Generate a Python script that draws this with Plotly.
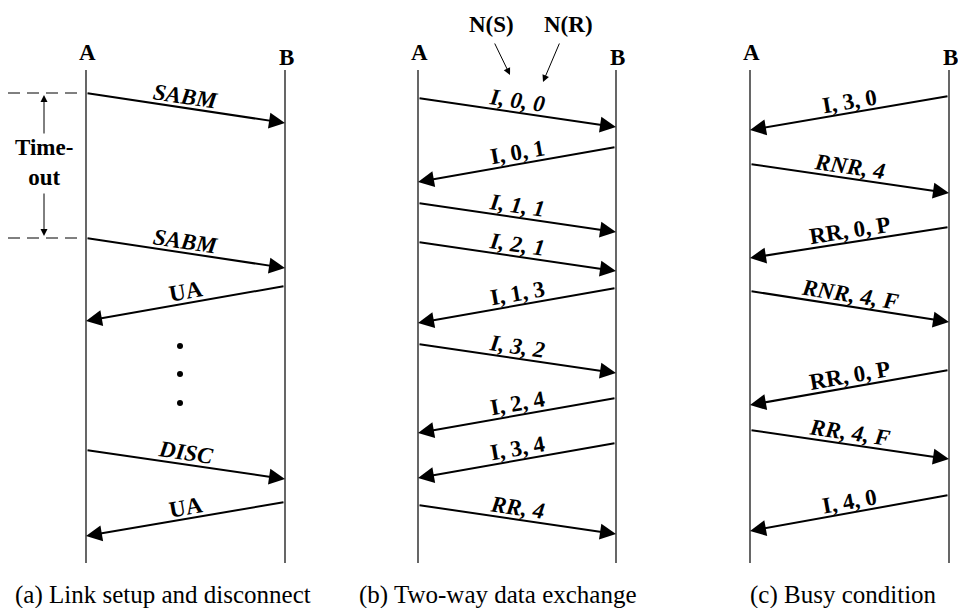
import math
import plotly.graph_objects as go

# ---------------- data (time of send / receive) ----------------
a_msgs = ["SABM", "SABM", "UA", "DISC", "UA"]
a_from = ["A", "A", "B", "A", "B"]
a_send = [93, 238, 286, 450, 502]
a_recv = [123, 268, 321, 479, 536]

b_msgs = ["I, 0, 0", "I, 0, 1", "I, 1, 1", "I, 2, 1", "I, 1, 3", "I, 3, 2", "I, 2, 4", "I, 3, 4", "RR, 4"]
b_from = ["A", "B", "A", "A", "B", "A", "B", "B", "A"]
b_send = [98, 147, 203, 242, 288, 344, 398, 443, 505]
b_recv = [127, 182, 232, 271, 323, 373, 433, 478, 534]

c_msgs = ["I, 3, 0", "RNR, 4", "RR, 0, P", "RNR, 4, F", "RR, 0, P", "RR, 4, F", "I, 4, 0"]
c_from = ["B", "A", "B", "A", "B", "A", "B"]
c_send = [96, 164, 227, 291, 370, 430, 495]
c_recv = [130, 193, 258, 322, 405, 459, 531]

captions = ["(a) Link setup and disconnect", "(b) Two-way data exchange", "(c) Busy condition"]
dots_t = [346, 374, 403]
timeout_t = [93, 238]

# ---------------- layout constants ----------------
W, H = 958, 608
SERIF = "Liberation Serif"
LIFE_TOP, LIFE_BOT = 70, 563
panels = [
    dict(xa=86, xb=285, msgs=a_msgs, frm=a_from, send=a_send, recv=a_recv, cap_x=163),
    dict(xa=418, xb=616, msgs=b_msgs, frm=b_from, send=b_send, recv=b_recv, cap_x=498),
    dict(xa=750, xb=949, msgs=c_msgs, frm=c_from, send=c_send, recv=c_recv, cap_x=843),
]

fig = go.Figure()
ann = []

for i, p in enumerate(panels):
    # lifelines
    for xx in (p["xa"], p["xb"]):
        fig.add_trace(go.Scatter(x=[xx, xx], y=[LIFE_TOP, LIFE_BOT], mode="lines",
                                 line=dict(color="black", width=1.2), hoverinfo="skip",
                                 showlegend=False))
    ann.append(dict(x=p["xa"] + 1, y=LIFE_TOP - 18, text="<b>A</b>", showarrow=False,
                    font=dict(family=SERIF, size=23, color="black")))
    ann.append(dict(x=p["xb"] + 1, y=LIFE_TOP - 13, text="<b>B</b>", showarrow=False,
                    font=dict(family=SERIF, size=23, color="black")))
    # messages
    for m, f, ts, tr in zip(p["msgs"], p["frm"], p["send"], p["recv"]):
        if f == "A":
            x0, y0, x1, y1 = p["xa"], ts, p["xb"], tr
            txt = "<b><i>%s</i></b>" % m
        else:
            x0, y0, x1, y1 = p["xb"], ts, p["xa"], tr
            txt = "<b>%s</b>" % m
        ann.append(dict(x=x1, y=y1, ax=x0, ay=y0, xref="x", yref="y", axref="x", ayref="y",
                        text="", showarrow=True, arrowhead=2, arrowsize=1.6, arrowwidth=2,
                        arrowcolor="black", standoff=0, startstandoff=0))
        # label along the arrow
        lx0, ly0, lx1, ly1 = (x0, y0, x1, y1) if x0 < x1 else (x1, y1, x0, y0)
        ang = math.degrees(math.atan2(ly1 - ly0, lx1 - lx0))
        ann.append(dict(x=(x0 + x1) / 2, y=(y0 + y1) / 2, text=txt, showarrow=False,
                        textangle=ang, yshift=12,
                        font=dict(family=SERIF, size=23, color="black")))
    ann.append(dict(x=p["cap_x"], y=595, text=captions[i], showarrow=False,
                    font=dict(family=SERIF, size=25, color="black")))

# panel (a) extras: dots, timeout
fig.add_trace(go.Scatter(x=[180] * len(dots_t), y=dots_t, mode="markers",
                         marker=dict(color="black", size=6), hoverinfo="skip", showlegend=False))
for t in timeout_t:
    fig.add_trace(go.Scatter(x=[8, 82], y=[t, t], mode="lines",
                             line=dict(color="black", width=1, dash="12px,7px"),
                             hoverinfo="skip", showlegend=False))
ann.append(dict(x=44, y=timeout_t[0] + 2, ax=44, ay=135, xref="x", yref="y", axref="x", ayref="y",
                text="", showarrow=True, arrowhead=2, arrowsize=1.4, arrowwidth=1,
                arrowcolor="black", standoff=0))
ann.append(dict(x=44, y=timeout_t[1] - 2, ax=44, ay=192, xref="x", yref="y", axref="x", ayref="y",
                text="", showarrow=True, arrowhead=2, arrowsize=1.4, arrowwidth=1,
                arrowcolor="black", standoff=0))
ann.append(dict(x=44, y=162, text="<b>Time-<br>out</b>", showarrow=False,
                font=dict(family=SERIF, size=23, color="black")))

# panel (b) extras: N(S), N(R)
ann.append(dict(x=491, y=24, text="<b>N(S)</b>", showarrow=False,
                font=dict(family=SERIF, size=23, color="black")))
ann.append(dict(x=568, y=24, text="<b>N(R)</b>", showarrow=False,
                font=dict(family=SERIF, size=23, color="black")))
ann.append(dict(x=510, y=75, ax=494, ay=42, xref="x", yref="y", axref="x", ayref="y",
                text="", showarrow=True, arrowhead=2, arrowsize=1.4, arrowwidth=1,
                arrowcolor="black", standoff=0))
ann.append(dict(x=543, y=82, ax=560, ay=42, xref="x", yref="y", axref="x", ayref="y",
                text="", showarrow=True, arrowhead=2, arrowsize=1.4, arrowwidth=1,
                arrowcolor="black", standoff=0))

fig.update_layout(
    width=W, height=H, margin=dict(l=0, r=0, t=0, b=0),
    paper_bgcolor="white", plot_bgcolor="white",
    xaxis=dict(range=[0, W], visible=False, fixedrange=True),
    yaxis=dict(range=[H, 0], visible=False, fixedrange=True),
    annotations=ann, showlegend=False,
)
fig.write_html("out.html", config={"displayModeBar": False, "staticPlot": True},
               post_script="document.body.style.margin='0';document.body.style.overflow='hidden';")
